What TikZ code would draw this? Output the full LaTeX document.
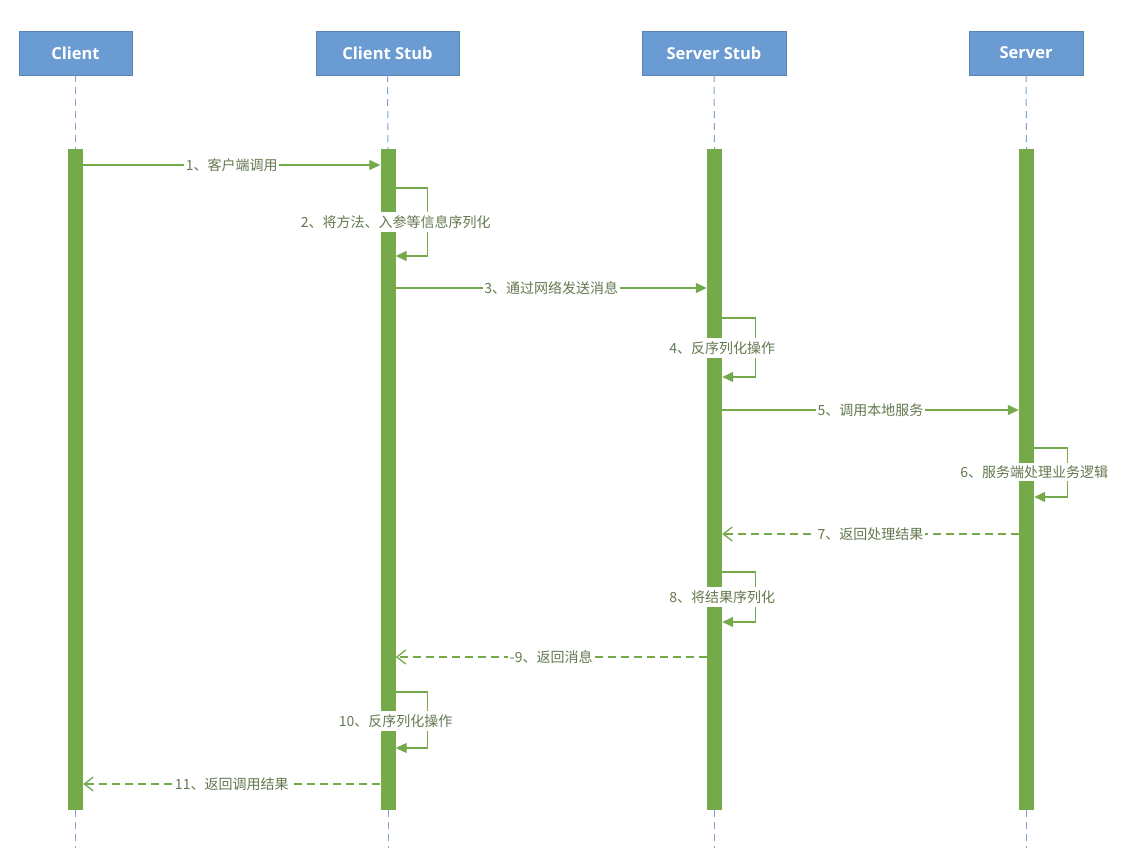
\documentclass[tikz,border=0pt]{standalone}
\usepackage{fontspec}
\setmainfont{Open Sans}
\newfontfamily\cjk{Noto Sans CJK SC}
\usetikzlibrary{arrows.meta}
\definecolor{hdrblue}{HTML}{6A9BD3}
\definecolor{barGreen}{HTML}{74AA4A}
\definecolor{lblText}{HTML}{64794F}
\definecolor{lifeBlue}{HTML}{7FA3CC}

\begin{document}
\begin{tikzpicture}[x=1pt,y=-1pt,
  header/.style={rectangle, fill=hdrblue, draw=hdrblue!85!black, line width=0.4pt,
    minimum height=44pt, inner sep=0pt, text=white,
    font=\bfseries\fontsize{16.5}{18}\selectfont},
  bar/.style={rectangle, fill=barGreen, minimum width=15pt, minimum height=661pt, inner sep=0pt},
  life/.style={draw=lifeBlue, dash pattern=on 7pt off 5pt, line width=1pt},
  msg/.style={draw=barGreen, line width=1.3pt, -{Triangle[length=11pt,width=10pt]}},
  reply/.style={draw=barGreen, line width=1.3pt, dash pattern=on 8pt off 5pt,
    -{Straight Barb[length=9pt,width=14pt]}},
  lbl/.style={fill=white, text=lblText, inner xsep=1.5pt, inner ysep=3pt,
    font=\cjk\fontsize{14}{16}\selectfont},
]
\useasboundingbox (0,0) rectangle (1126,848);

% participants
\node[header, minimum width=113pt] (hc)  at (75.5,53)  {Client};
\node[header, minimum width=143pt] (hcs) at (387.5,53) {Client Stub};
\node[header, minimum width=144pt] (hss) at (714,53)   {Server Stub};
\node[header, minimum width=114pt] (hs)  at (1026,53)  {Server};

% activation bars
\node[bar] (bc)  at (75.5,479.5)  {};
\node[bar] (bcs) at (388,479.5)   {};
\node[bar] (bss) at (714.5,479.5) {};
\node[bar] (bs)  at (1026.5,479.5) {};

% lifelines
\foreach \h/\b in {hc/bc, hcs/bcs, hss/bss, hs/bs}{
  \draw[life] (\h.south) -- (\b.north);
  \draw[life] (\b.south) -- (\b.south |- 0,848);
}

% 1
\draw[msg] (bc.east |- 0,165) -- (bcs.west |- 0,165)
  node[lbl, pos=0.5] {1、客户端调用};
% 2
\draw[msg] (bcs.east |- 0,188) -- ++(32,0) -- ++(0,68) -- (bcs.east |- 0,256);
\node[lbl] (l2) at (bcs.east |- 0,222) {2、将方法、入参等信息序列化};
% 3
\draw[msg] (bcs.east |- 0,288) -- (bss.west |- 0,288)
  node[lbl, pos=0.5] {3、通过网络发送消息};
% 4
\draw[msg] (bss.east |- 0,318) -- ++(33,0) -- ++(0,59) -- (bss.east |- 0,377);
\node[lbl] (l4) at (bss.east |- 0,348) {4、反序列化操作};
% 5
\draw[msg] (bss.east |- 0,410) -- (bs.west |- 0,410)
  node[lbl, pos=0.5] {5、调用本地服务};
% 6
\draw[msg] (bs.east |- 0,448) -- ++(33,0) -- ++(0,49) -- (bs.east |- 0,497);
\node[lbl] (l6) at (bs.east |- 0,472) {6、服务端处理业务逻辑};
% 7
\draw[reply] (bs.west |- 0,534) -- (bss.east |- 0,534)
  node[lbl, pos=0.5] {7、返回处理结果};
% 8
\draw[msg] (bss.east |- 0,572) -- ++(33,0) -- ++(0,50) -- (bss.east |- 0,622);
\node[lbl] (l8) at (bss.east |- 0,597) {8、将结果序列化};
% 9
\draw[reply] (bss.west |- 0,657) -- (bcs.east |- 0,657)
  node[lbl, pos=0.5] {-9、返回消息};
% 10
\draw[msg] (bcs.east |- 0,692) -- ++(32,0) -- ++(0,56) -- (bcs.east |- 0,748);
\node[lbl] (l10) at (bcs.east |- 0,721) {10、反序列化操作};
% 11
\draw[reply] (bcs.west |- 0,784) -- (bc.east |- 0,784)
  node[lbl, pos=0.5] {11、返回调用结果};
\end{tikzpicture}
\end{document}
